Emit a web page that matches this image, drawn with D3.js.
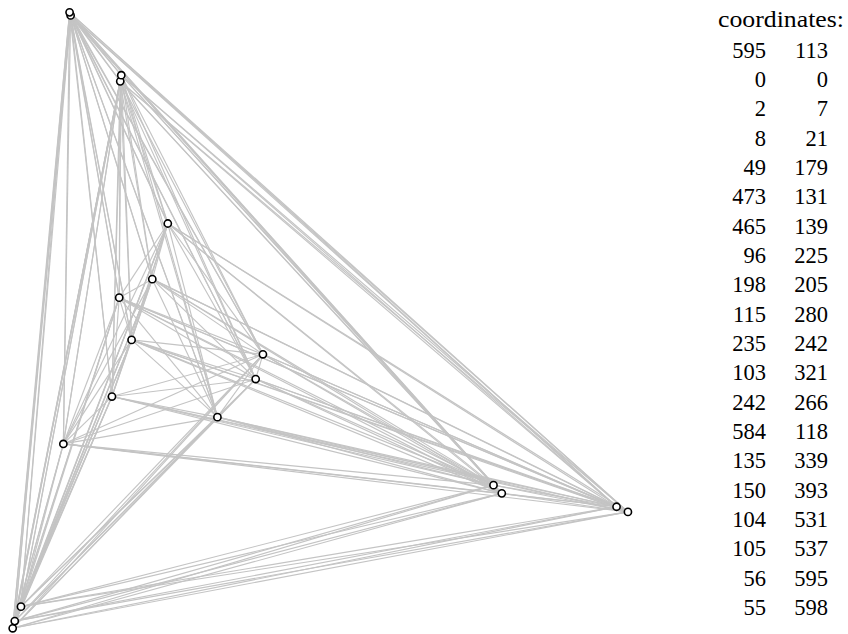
<!DOCTYPE html>
<html>
<head>
<meta charset="utf-8">
<script src="https://cdn.jsdelivr.net/npm/d3@7"></script>
<style>
  html, body { margin: 0; padding: 0; background: #fff; }
  svg { display: block; }
</style>
</head>
<body>
<svg id="chart" width="848" height="634"></svg>
<script>
// Point coordinates (as listed in the table)
const xs = [595, 0, 2, 8, 49, 473, 465, 96, 198, 115, 235, 103, 242, 584, 135, 150, 104, 105, 56, 55];
const ys = [113, 0, 7, 21, 179, 131, 139, 225, 205, 280, 242, 321, 266, 118, 339, 393, 531, 537, 595, 598];
const tableTitle = "coordinates:";

const points = xs.map((x, i) => ({ x, y: ys[i] }));
// every pair of points is joined (complete graph)
const edges = [];
for (let i = 0; i < points.length; i++)
  for (let j = i + 1; j < points.length; j++)
    edges.push([points[i], points[j]]);

const svg = d3.select("#chart");
const x = d3.scaleLinear().domain([0, 595]).range([12.7, 12.7 + 595 * 1.034]);
const y = d3.scaleLinear().domain([0, 598]).range([628.3, 628.3 - 598 * 1.03]);

svg.append("g")
  .selectAll("line")
  .data(edges)
  .join("line")
  .attr("x1", d => x(d[0].x)).attr("y1", d => y(d[0].y))
  .attr("x2", d => x(d[1].x)).attr("y2", d => y(d[1].y))
  .attr("stroke", "#c4c4c4")
  .attr("stroke-width", 1.15);

svg.append("g")
  .selectAll("circle")
  .data(points)
  .join("circle")
  .attr("cx", d => x(d.x)).attr("cy", d => y(d.y))
  .attr("r", 3.6)
  .attr("fill", "#fff")
  .attr("stroke", "#000")
  .attr("stroke-width", 1.6);

// coordinate table
const font = "'Liberation Serif', 'DejaVu Serif', serif";
const t = svg.append("g").attr("font-family", font).attr("font-size", 22.5).attr("fill", "#000");
t.append("text")
  .attr("x", 718).attr("y", 27)
  .attr("textLength", 126).attr("lengthAdjust", "spacingAndGlyphs")
  .text(tableTitle);
const rowY = d3.scaleLinear().domain([0, 19]).range([57.5, 57.5 + 19 * 29.35]);
t.selectAll("text.c1").data(points).join("text").attr("class", "c1")
  .attr("x", 766).attr("y", (d, i) => rowY(i)).attr("text-anchor", "end").text(d => d.x);
t.selectAll("text.c2").data(points).join("text").attr("class", "c2")
  .attr("x", 828).attr("y", (d, i) => rowY(i)).attr("text-anchor", "end").text(d => d.y);
</script>
</body>
</html>
